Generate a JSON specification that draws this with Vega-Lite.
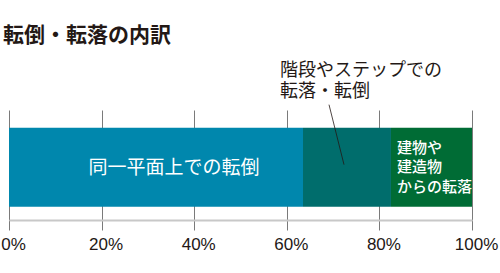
{
  "$schema": "https://vega.github.io/schema/vega-lite/v6.json",
  "width": 463,
  "height": 110,
  "autosize": "none",
  "padding": {"left": 9, "right": 28, "top": 110, "bottom": 53},
  "background": "white",
  "title": {
    "text": "転倒・転落の内訳",
    "anchor": "start",
    "frame": "group",
    "font": "Noto Sans CJK JP",
    "fontSize": 21,
    "fontWeight": "bold",
    "color": "#231815",
    "baseline": "middle",
    "offset": 5,
    "dx": -6
  },
  "data": {
    "values": [
      {"bar": "転倒・転落", "category": "同一平面上での転倒", "value": 63.5},
      {"bar": "転倒・転落", "category": "階段やステップでの\n転落・転倒", "value": 19.0},
      {"bar": "転倒・転落", "category": "建物や\n建造物\nからの転落", "value": 17.5}
    ]
  },
  "transform": [
    {"stack": "value", "groupby": ["bar"], "as": ["x0", "x1"]}
  ],
  "encoding": {
    "y": {
      "field": "bar",
      "type": "nominal",
      "axis": null,
      "scale": {"paddingInner": 0, "paddingOuter": 0.196, "align": 0.57}
    }
  },
  "layer": [
    {
      "mark": {"type": "bar"},
      "encoding": {
        "x": {
          "field": "x0",
          "type": "quantitative",
          "scale": {"domain": [0, 100], "nice": false},
          "axis": {
            "values": [0, 20, 40, 60, 80, 100],
            "labelExpr": "datum.value + '%'",
            "title": null,
            "grid": true,
            "gridColor": "#7a7a7a",
            "gridWidth": 1,
            "tickColor": "#7a7a7a",
            "tickWidth": 1,
            "tickSize": 10,
            "domainColor": "#c8c8c8",
            "domainWidth": 2,
            "labelFont": "Liberation Sans",
            "labelFontSize": 17,
            "labelColor": "#231815",
            "labelBaseline": "alphabetic",
            "labelPadding": 19,
            "labelOffset": 4,
            "labelFlush": false,
            "labelOverlap": false,
            "zindex": 0
          }
        },
        "x2": {"field": "x1"},
        "color": {
          "field": "category",
          "type": "nominal",
          "legend": null,
          "scale": {
            "domain": ["同一平面上での転倒", "階段やステップでの\n転落・転倒", "建物や\n建造物\nからの転落"],
            "range": ["#0087ad", "#006d6c", "#006c35"]
          }
        }
      }
    },
    {
      "transform": [{"filter": "datum.category == '同一平面上での転倒'"}],
      "mark": {
        "type": "text",
        "font": "Noto Sans CJK JP",
        "fontSize": 19,
        "color": "white",
        "align": "center",
        "baseline": "middle",
        "dx": 165,
        "dy": 1
      },
      "encoding": {
        "x": {"field": "x0", "type": "quantitative"},
        "text": {"field": "category"}
      }
    },
    {
      "transform": [{"filter": "indexof(datum.category, '建物') == 0"}],
      "mark": {
        "type": "text",
        "font": "Noto Sans CJK JP",
        "fontSize": 15,
        "fontWeight": 500,
        "color": "white",
        "align": "left",
        "baseline": "middle",
        "lineBreak": "\n",
        "lineHeight": 19.5,
        "dx": 6,
        "dy": -19.5
      },
      "encoding": {
        "x": {"field": "x0", "type": "quantitative"},
        "text": {"field": "category"}
      }
    },
    {
      "transform": [{"filter": "indexof(datum.category, '階段') == 0"}],
      "mark": {
        "type": "text",
        "font": "Noto Sans CJK JP",
        "fontSize": 18,
        "color": "#231815",
        "align": "left",
        "baseline": "middle",
        "lineBreak": "\n",
        "lineHeight": 21,
        "dx": -23,
        "dy": -96
      },
      "encoding": {
        "x": {"field": "x0", "type": "quantitative"},
        "text": {"field": "category"}
      }
    },
    {
      "transform": [{"filter": "indexof(datum.category, '階段') == 0"}],
      "mark": {
        "type": "rule",
        "color": "#231815",
        "strokeWidth": 0.8,
        "xOffset": 26,
        "x2Offset": 41,
        "yOffset": -62.5,
        "y2Offset": -2.5
      },
      "encoding": {
        "x": {"field": "x0", "type": "quantitative"},
        "x2": {"field": "x0"},
        "y2": {"field": "bar"}
      }
    }
  ],
  "config": {"view": {"stroke": null}}
}
